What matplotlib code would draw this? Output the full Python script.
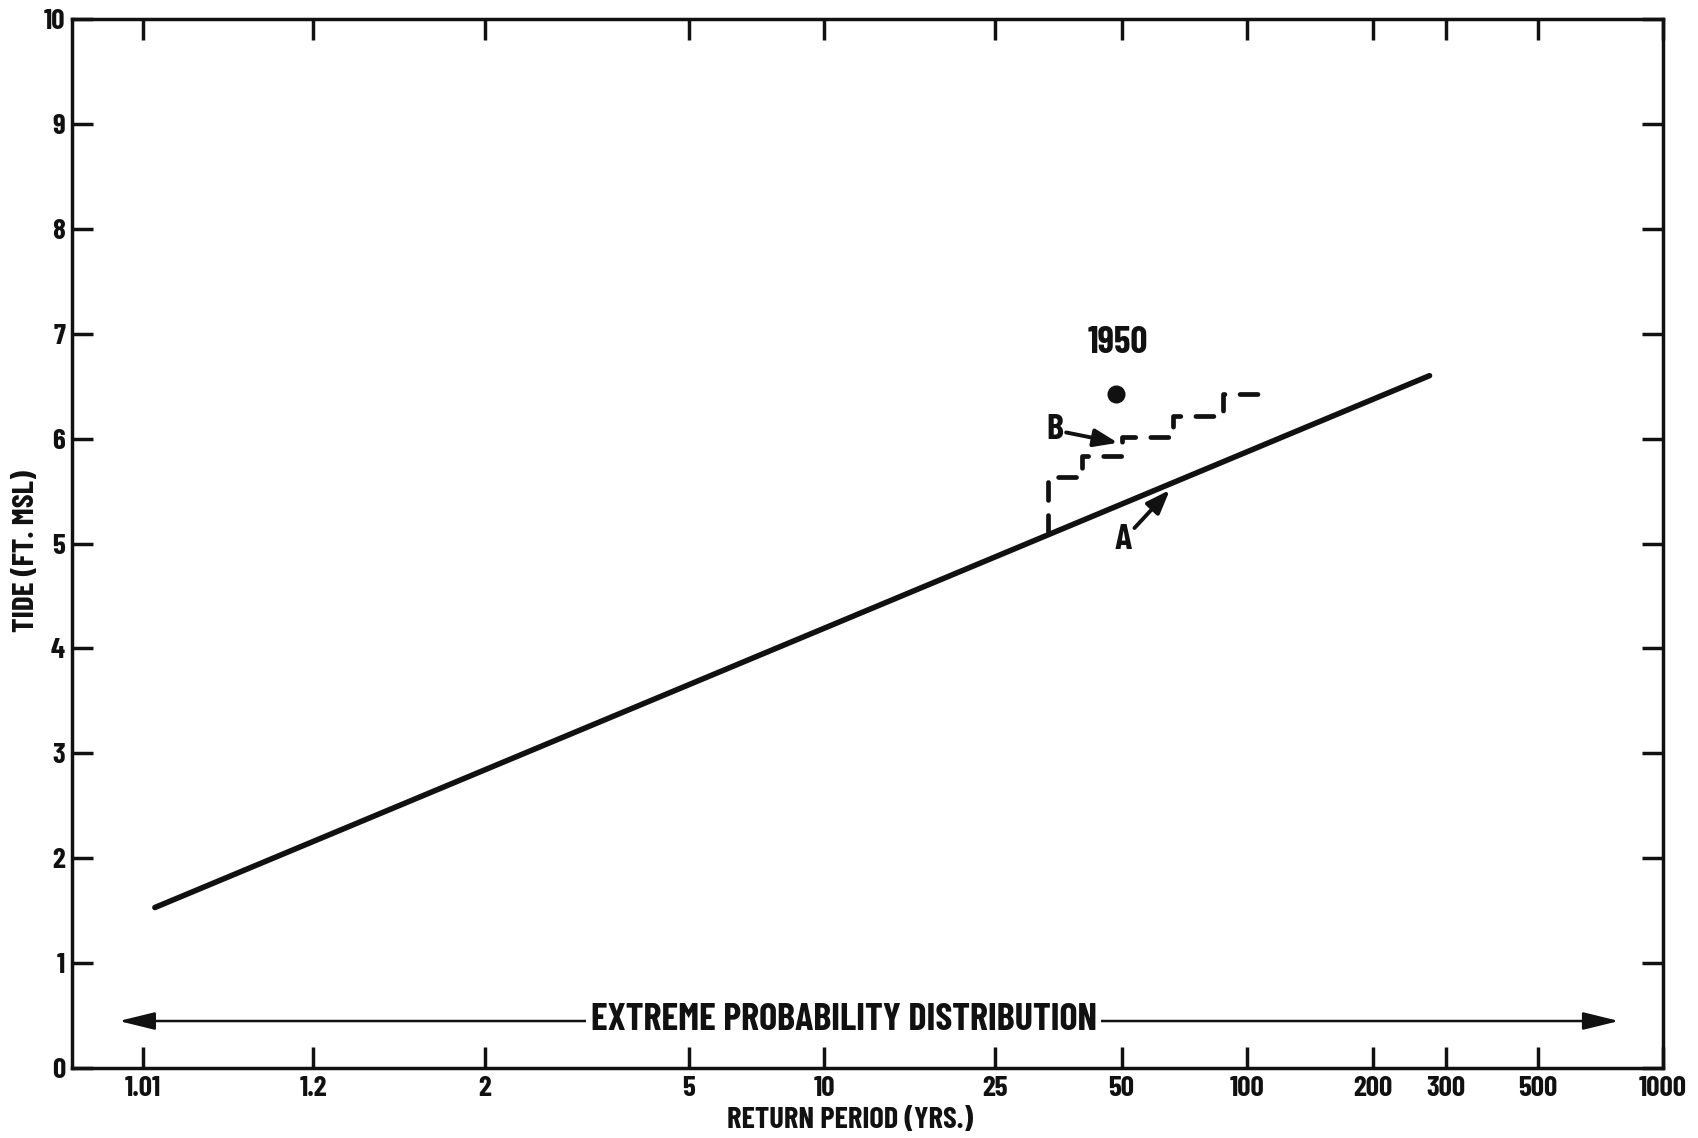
import matplotlib
matplotlib.use('Agg')
import matplotlib.pyplot as plt
import matplotlib.transforms as mtransforms
import numpy as np

# return period ticks (years) on the extreme probability (Gumbel) axis
period_ticks = [1.01, 1.2, 2, 5, 10, 25, 50, 100, 200, 300, 500, 1000]
period_labels = ['1.01', '1.2', '2', '5', '10', '25', '50', '100', '200', '300', '500', '1000']
tide_ticks = list(range(0, 11))

# curve A: fitted extreme probability line
a_period = [1.0135, 274]
a_tide = [1.53, 6.60]

# curve B: observed (ranked) tides, stepped
b_period = [33.4, 33.4, 40.2, 50.1, 66.3, 87.3, 113.3]
b_tide = [5.10, 5.63, 5.83, 6.02, 6.22, 6.43, 6.43]

# 1950 event
event_period = [48.5]
event_tide = [6.43]

FONT = ['Barlow Condensed', 'DejaVu Sans']
INK = '#111111'


def gumbel(t):
    t = np.asarray(t, dtype=float)
    with np.errstate(all='ignore'):
        p = 1.0 - 1.0 / np.where(t > 1.0, t, np.nan)
        return -np.log(-np.log(p))


def gumbel_inv(r):
    r = np.asarray(r, dtype=float)
    with np.errstate(all='ignore'):
        return 1.0 / (1.0 - np.exp(-np.exp(-r)))


plt.rcParams['font.family'] = FONT
plt.rcParams['font.weight'] = 'bold'
plt.rcParams['font.stretch'] = 'condensed'
plt.rcParams['axes.labelweight'] = 'bold'

fig = plt.figure(figsize=(16.98, 11.38), dpi=100)
ax = fig.add_axes([0.0424, 0.0615, 0.9370, 0.9218])
ax.set_xscale('function', functions=(gumbel, gumbel_inv))
ax.set_xlim(1.00107, 1000)
ax.set_ylim(0, 10)

ax.plot(a_period, a_tide, color=INK, lw=4.0, solid_capstyle='round')
ax.plot(b_period, b_tide, color=INK, lw=3.4, drawstyle='steps-post',
        dashes=(3.8, 3.2), dash_capstyle='round')
ax.plot(event_period, event_tide, 'o', color=INK, ms=12)

ax.text(49, 6.91, '1950', fontsize=27, ha='center', va='center', color=INK)
head = '-|>,head_length=0.4,head_width=0.15'
ax.annotate('B', xy=(49.0, 5.96), xytext=(34.7, 6.08), fontsize=26,
            ha='center', va='center', color=INK,
            arrowprops=dict(arrowstyle=head, mutation_scale=36, lw=2.8,
                            color=INK, shrinkA=0, shrinkB=0))
ax.annotate('A', xy=(65.2, 5.51), xytext=(50.4, 5.03), fontsize=26,
            ha='center', va='center', color=INK,
            arrowprops=dict(arrowstyle=head, mutation_scale=36, lw=2.8,
                            color=INK, shrinkA=0, shrinkB=0))

# distribution span arrow with its label
span = mtransforms.blended_transform_factory(ax.transAxes, ax.transData)
ax.annotate('', xy=(0.0295, 0.448), xytext=(0.9723, 0.448),
            xycoords=span, textcoords=span,
            arrowprops=dict(arrowstyle='<|-|>,head_length=1.1,head_width=0.27',
                            mutation_scale=20, lw=1.8, color=INK,
                            shrinkA=0, shrinkB=0))
ax.text(0.485, 0.458, 'EXTREME PROBABILITY DISTRIBUTION', fontsize=27.5,
        ha='center', va='center', color=INK, transform=span,
        bbox=dict(facecolor='white', edgecolor='none', pad=3))

ax.set_xticks(period_ticks)
ax.set_xticklabels(period_labels)
ax.set_yticks(tide_ticks)
ax.set_yticklabels([str(v) for v in tide_ticks])
ax.minorticks_off()
ax.tick_params(direction='in', length=15, width=2.5, color=INK,
               top=True, right=True, labelsize=21, labelcolor=INK)
ax.tick_params(axis='x', pad=6)
ax.tick_params(axis='y', pad=5)
for s in ax.spines.values():
    s.set_linewidth(2.5)
    s.set_color(INK)

ax.set_xlabel('RETURN PERIOD (YRS.)', fontsize=22, color=INK, va='center')
ax.xaxis.set_label_coords(0.489, -0.0505)
ax.set_ylabel('TIDE (FT. MSL)', fontsize=22.5, color=INK, va='center')
ax.yaxis.set_label_coords(-0.0289, 0.4929)

fig.savefig('out.png', dpi=100, facecolor='white')
